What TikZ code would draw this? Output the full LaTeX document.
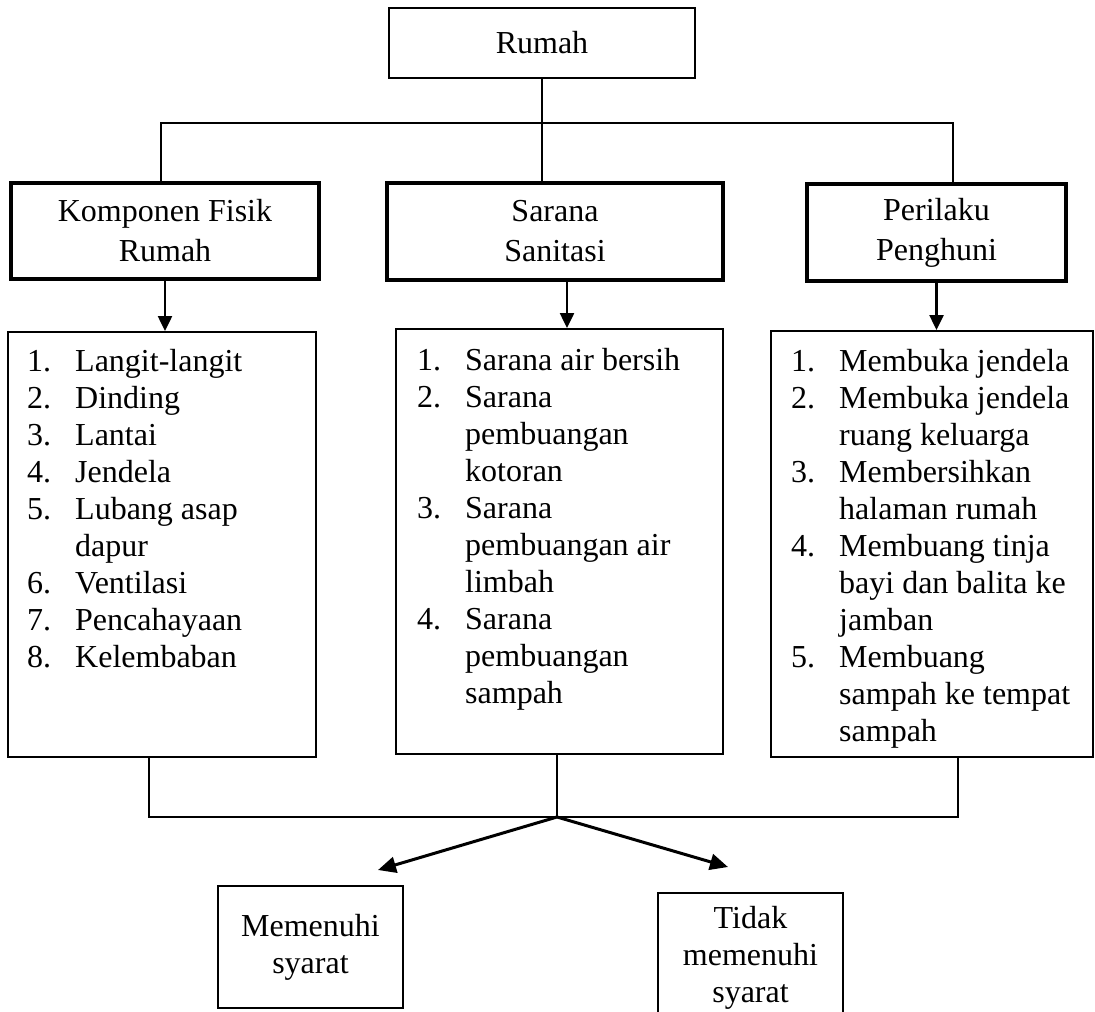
\documentclass[tikz,border=0pt]{standalone}
\usepackage{fontspec}
\setmainfont{Liberation Serif}
\usetikzlibrary{calc}
\usetikzlibrary{arrows.meta}
\tikzset{
hdbox/.style={draw,line width=4.5pt,align=center,font=\fontsize{32}{40}\selectfont},
listbox/.style={draw,line width=2pt},
listtxt/.style={anchor=north west,inner sep=0pt,font=\fontsize{32}{37}\selectfont},
endbox/.style={draw,line width=2pt,align=center,font=\fontsize{32}{37}\selectfont},
conn/.style={line width=1.5pt},
varrow/.style={line width=2.5pt,-{Triangle[length=15pt,width=14pt]}},
darrow/.style={line width=3pt,-{Triangle[length=18pt,width=16pt]}}
}
\newcommand{\itemrows}[1]{\begin{tabular}{@{}p{48pt}@{}l@{}}#1\end{tabular}}

\begin{document}
\begin{tikzpicture}[x=1pt,y=-1pt]
\useasboundingbox (0,0) rectangle (1095,1012);

\node (rumah) at (542,43) [draw,line width=1.8pt,minimum width=306pt,minimum height=70pt,font=\fontsize{32}{40}\selectfont] {Rumah};

\node (fisik) at (165,231) [hdbox,minimum width=308pt,minimum height=96pt] {Komponen Fisik\\Rumah};
\node (sanitasi) at (555,231.5) [hdbox,minimum width=336pt,minimum height=97pt] {Sarana\\Sanitasi};
\node (perilaku) at (936.5,232.5) [hdbox,minimum width=259pt,minimum height=97pt] {Perilaku\\Penghuni};

\node (daftar1) at (162,544.5) [listbox,minimum width=308pt,minimum height=425pt] {};
\node (daftar2) at (559.5,541.5) [listbox,minimum width=327pt,minimum height=425pt] {};
\node (daftar3) at (932,544) [listbox,minimum width=322pt,minimum height=426pt] {};

\node (isi1) at ($(daftar1.north west)+(20,14)$) [listtxt] {\itemrows{
1.&Langit-langit\\ 2.&Dinding\\ 3.&Lantai\\ 4.&Jendela\\ 5.&Lubang asap\\ &dapur\\
6.&Ventilasi\\ 7.&Pencahayaan\\ 8.&Kelembaban}};
\node (isi2) at ($(daftar2.north west)+(22,16)$) [listtxt] {\itemrows{
1.&Sarana air bersih\\ 2.&Sarana\\ &pembuangan\\ &kotoran\\ 3.&Sarana\\ &pembuangan air\\ &limbah\\
4.&Sarana\\ &pembuangan\\ &sampah}};
\node (isi3) at ($(daftar3.north west)+(21,15)$) [listtxt] {\itemrows{
1.&Membuka jendela\\ 2.&Membuka jendela\\ &ruang keluarga\\ 3.&Membersihkan\\ &halaman rumah\\
4.&Membuang tinja\\ &bayi dan balita ke\\ &jamban\\ 5.&Membuang\\ &sampah ke tempat\\ &sampah}};

\node (memenuhi) at (310.5,947) [endbox,minimum width=185pt,minimum height=122pt] {Memenuhi\\syarat};
\node (tidak) at (750.5,958) [endbox,minimum width=185pt,minimum height=130pt] {Tidak\\memenuhi\\syarat};

\coordinate (barL) at (161,123);
\coordinate (barR) at (953,123);
\draw[conn] (rumah.south) -- (rumah.south |- sanitasi.north);
\draw[conn] (barL |- fisik.north) -- (barL) -- (barR) -- (barR |- perilaku.north);

\coordinate (sx) at ($(sanitasi.south)+(12,0)$);
\draw[varrow] (fisik.south) -- (fisik.south |- daftar1.north);
\draw[varrow] (sx) -- (sx |- daftar2.north);
\draw[varrow] (perilaku.south) -- (perilaku.south |- daftar3.north);

\coordinate (bawahL) at (149,817);
\coordinate (gabung) at (557,817);
\coordinate (bawahR) at (958,817);
\draw[conn] (bawahL |- daftar1.south) -- (bawahL) -- (bawahR) -- (bawahR |- daftar3.south);
\draw[conn] (gabung |- daftar2.south) -- (gabung);

\coordinate (ujung1) at (378,870);
\coordinate (ujung2) at (728,867);
\draw[darrow] (gabung) -- (ujung1);
\draw[darrow] (gabung) -- (ujung2);
\end{tikzpicture}
\end{document}
